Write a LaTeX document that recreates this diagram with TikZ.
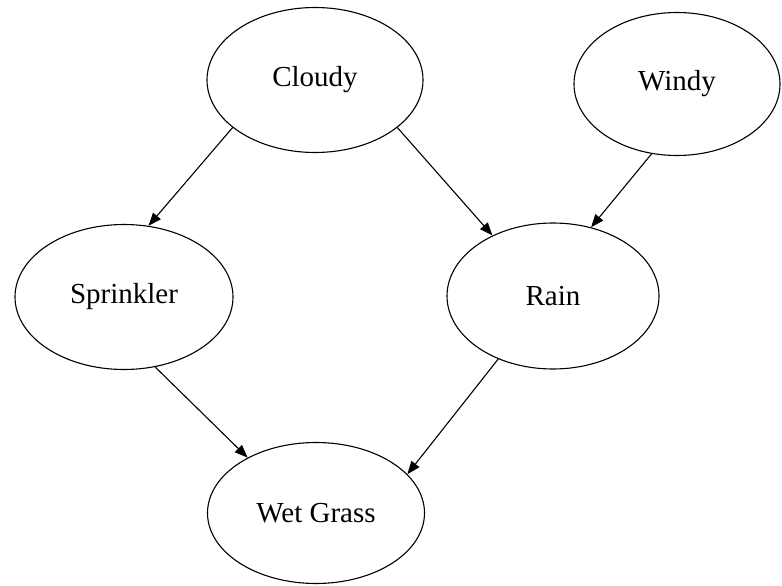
\documentclass[tikz,border=0pt]{standalone}
\usepackage{fontspec}
\setmainfont{Liberation Serif}
\usetikzlibrary{shapes.geometric,arrows.meta}

\begin{document}
\begin{tikzpicture}[x=1pt,y=-1pt]
\tikzstyle{var}=[draw,ellipse,line width=1.1pt,inner sep=0pt,font=\fontsize{29}{34}\selectfont]

\tikzstyle{edge}=[line width=1.1pt,-{Triangle[length=13pt,width=10pt]}]

\useasboundingbox (0,0) rectangle (782,586);

\node (cloudy) [var,minimum width=216pt,minimum height=145pt] at (315,80) {Cloudy};
\node (windy) [var,minimum width=206pt,minimum height=143pt] at (677,84) {Windy};
\node (sprinkler) [var,minimum width=218pt,minimum height=145pt] at (124,297) {Sprinkler};
\node (rain) [var,minimum width=212pt,minimum height=146pt] at (553,296) {Rain};
\node (wetgrass) [var,minimum width=217pt,minimum height=141pt] at (316,513) {Wet Grass};

\draw [edge] (cloudy.210.5) -- (sprinkler.71.8);
\draw [edge] (cloudy.330.5) -- (rain.135);
\draw [edge] (windy.250) -- (rain.61.8);
\draw [edge] (sprinkler.294.5) -- (wetgrass.141.7);
\draw [edge] (rain.229) -- (wetgrass.23.7);

\end{tikzpicture}
\end{document}
